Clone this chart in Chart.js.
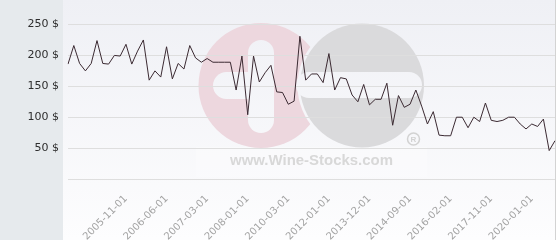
<!DOCTYPE html>
<html><head><meta charset="utf-8">
<script src="https://cdn.jsdelivr.net/npm/chart.js@4"></script>
<style>html,body{margin:0;padding:0;background:#fff}#wrap{width:560px;height:240px;position:relative}</style>
</head><body><div id="wrap"><canvas id="c" width="560" height="240"></canvas></div>
<script>
const dates = [
  '2005-01-01','2005-02-01','2005-03-01','2005-04-01','2005-05-01','2005-06-01','2005-07-01','2005-08-01','2005-09-01','2005-10-01',
  '2005-11-01','2005-12-01','2006-01-01','2006-02-01','2006-03-01','2006-04-01','2006-05-01','2006-06-01','2006-07-01','2006-09-01',
  '2006-10-01','2006-11-01','2006-12-01','2007-02-01','2007-03-01','2007-04-01','2007-06-01','2007-07-01','2007-09-01','2007-10-01',
  '2007-12-01','2008-01-01','2008-05-01','2008-09-01','2009-01-01','2009-04-01','2009-08-01','2009-11-01','2010-03-01','2010-06-01',
  '2010-09-01','2011-01-01','2011-04-01','2011-07-01','2011-10-01','2012-01-01','2012-05-01','2012-08-01','2012-12-01','2013-03-01',
  '2013-06-01','2013-09-01','2013-12-01','2014-01-01','2014-03-01','2014-04-01','2014-05-01','2014-06-01','2014-08-01','2014-09-01',
  '2014-12-01','2015-03-01','2015-05-01','2015-07-01','2015-10-01','2015-12-01','2016-02-01','2016-05-01','2016-08-01','2016-11-01',
  '2017-02-01','2017-05-01','2017-08-01','2017-11-01','2018-02-01','2018-05-01','2018-08-01','2018-11-01','2019-03-01','2019-08-01',
  '2020-01-01','2020-06-01','2020-11-01','2021-04-01','2021-09-01'
];
const prices = [
  186,216,187,175,187,224,187,186,200,199,
  218,186,207,225,160,175,165,214,162,187,
  178,216,196,189,195,189,189,189,189,144,
  199,104,199,157,172,184,141,140,121,126,
  231,160,170,170,156,203,144,164,162,136,
  125,153,120,129,129,155,87,135,116,121,
  144,118,89,109,71,70,70,100,100,83,
  100,93,123,95,93,95,100,100,89,81,
  89,85,97,46,62
];
const yTicks = [0,50,100,150,200,250];
const yMax = 280;
const labelStart = 10, labelStep = 7;

const bgPlugin = {
  id: 'bg',
  beforeDraw(chart) {
    const ctx = chart.ctx, W = chart.width, H = chart.height;
    ctx.save();
    ctx.fillStyle = '#ffffff'; ctx.fillRect(0,0,W,H);
    ctx.fillStyle = '#e6eaed'; ctx.fillRect(0,0,63,H);
    const g = ctx.createLinearGradient(0,0,0,H);
    g.addColorStop(0,'#eff0f5'); g.addColorStop(1,'#fdfdfe');
    ctx.fillStyle = g; ctx.fillRect(63,0,492,H);
    // watermark
    ctx.fillStyle = 'rgba(255,255,255,0.25)';
    ctx.fillRect(196,147,231,30);
    function rr(x,y,w,h,r){ctx.beginPath();ctx.roundRect(x,y,w,h,r);ctx.fill();}
    ctx.fillStyle = '#edd7de';
    ctx.beginPath(); ctx.arc(261,85.5,62.5,0,Math.PI*2); ctx.fill();
    ctx.fillStyle = g;
    rr(248,40,26,93,13);
    rr(213,72,50,27,13.5);
    ctx.beginPath(); ctx.arc(362,85.5,64.5,0,Math.PI*2); ctx.fill();
    ctx.fillStyle = '#dadadc';
    ctx.beginPath(); ctx.arc(362,85.5,62,0,Math.PI*2); ctx.fill();
    ctx.fillStyle = g;
    rr(296,72,126,26,13);
    ctx.fillStyle = '#d8d8d8';
    ctx.font = 'bold 15px "Liberation Sans"';
    const t = 'www.Wine-Stocks.com';
    const tw = ctx.measureText(t).width;
    ctx.save(); ctx.translate(230,165); ctx.scale(163/tw,1);
    ctx.textBaseline = 'alphabetic'; ctx.fillText(t,0,0); ctx.restore();
    ctx.strokeStyle = '#d2d2d2'; ctx.lineWidth = 1.5;
    ctx.beginPath(); ctx.arc(413.5,139,6,0,Math.PI*2); ctx.stroke();
    ctx.fillStyle = '#d2d2d2'; ctx.font = 'bold 8px "Liberation Sans"';
    ctx.textAlign = 'center'; ctx.textBaseline = 'middle'; ctx.fillText('R',413.5,139.5);
    ctx.strokeStyle = '#d3d3d3'; ctx.lineWidth = 1;
    ctx.beginPath(); ctx.moveTo(555.5,0); ctx.lineTo(555.5,H); ctx.stroke();
    ctx.restore();
  }
};

new Chart(document.getElementById('c'), {
  type: 'line',
  data: {
    labels: dates,
    datasets: [{
      data: prices,
      borderColor: '#3b2a32',
      borderWidth: 1,
      pointRadius: 0,
      tension: 0,
      fill: false
    }]
  },
  options: {
    responsive: false,
    animation: false,
    devicePixelRatio: 1,
    layout: { padding: { top: 6, right: 5, left: 0, bottom: 0 } },
    plugins: { legend: { display: false }, tooltip: { enabled: false } },
    scales: {
      x: {
        type: 'category',
        grid: { display: false },
        border: { display: false },
        afterFit(s) { s.height = 61; s.paddingLeft = 0; s.paddingRight = 0; },
        ticks: {
          autoSkip: false, maxRotation: 45, minRotation: 45,
          color: '#a3a3a3', padding: 6,
          font: { family: 'DejaVu Sans', size: 10 },
          callback(v, i) { return (i >= labelStart && (i - labelStart) % labelStep === 0) ? dates[i] : null; }
        }
      },
      y: {
        min: 0, max: yMax,
        afterBuildTicks(s) { s.ticks = yTicks.map(v => ({ value: v })); },
        afterFit(s) { s.width = 68; s.paddingTop = 0; s.paddingBottom = 0; },
        grid: { color: '#dedede', drawTicks: false },
        border: { display: false },
        ticks: {
          padding: 9, color: '#2e2e2e',
          font: { family: 'DejaVu Sans', size: 11 },
          callback(v) { return v === 0 ? '' : v + ' $'; }
        }
      }
    }
  },
  plugins: [bgPlugin]
});
</script>
</body></html>
